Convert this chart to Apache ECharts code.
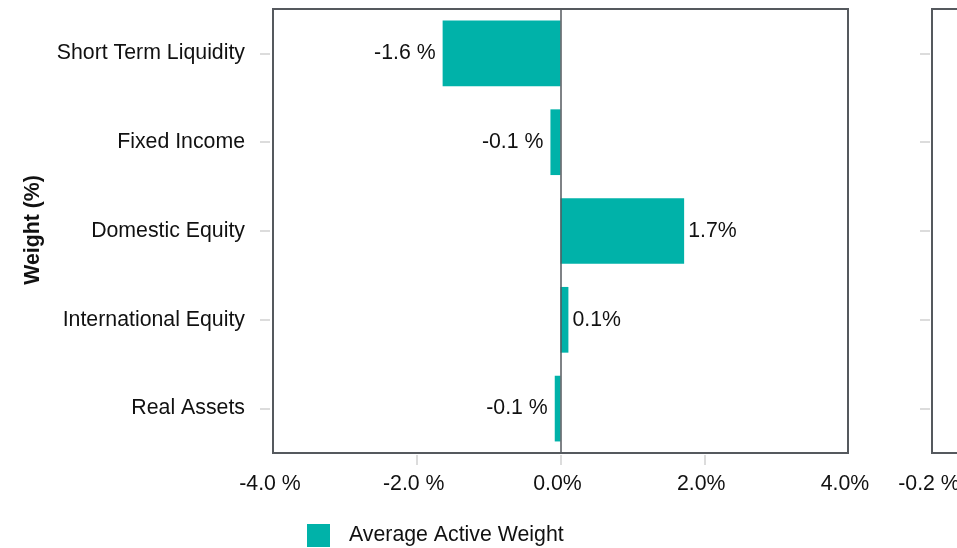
<!DOCTYPE html>
<html>
<head>
<meta charset="utf-8">
<script src="https://cdn.jsdelivr.net/npm/echarts@6/dist/echarts.min.js"></script>
<style>
  html, body { margin: 0; padding: 0; background: #fff; }
  #chart { width: 957px; height: 548px; }
</style>
</head>
<body>
<div id="chart"></div>
<script>
// Asset classes, top to bottom
const categories = ['Short Term Liquidity', 'Fixed Income', 'Domestic Equity', 'International Equity', 'Real Assets'];
// Average active weight, in percent
const activeWeight = [-1.64, -0.14, 1.72, 0.11, -0.08];
// Value-axis ticks of the main panel (percent)
const weightTicks = [-4, -2, 0, 2, 4];
// Value-axis ticks of the right-hand panel (percent)
const returnTicks = [-0.2, -0.1, 0, 0.1, 0.2];
const seriesName = 'Average Active Weight';

const FONT = 'Liberation Sans, Arial, sans-serif';
const FS = 21.3;
const TEAL = '#00b2a9';
const FRAME = '#55595e';
const TICK = '#dcdcdc';
const INK = '#111';

// "-1.6 %" for negatives, "1.7%" otherwise
function pct(v) {
  const s = Number(v).toFixed(1);
  return v < 0 ? s + ' %' : s + '%';
}

const chart = echarts.init(document.getElementById('chart'), null, { renderer: 'canvas' });

const barData = activeWeight.map(v => ({
  value: v,
  label: { position: v < 0 ? 'left' : 'right', distance: v < 0 ? 7 : 4 }
}));

function valueLabel(ticks) {
  return {
    fontSize: FS, color: INK, margin: 19,
    align: 'center',
    padding: [0, 6, 0, 0],
    alignMinLabel: 'center', alignMaxLabel: 'center',
    hideOverlap: false,
    customValues: ticks,
    formatter: pct
  };
}

chart.setOption({
  animation: false,
  textStyle: { fontFamily: FONT },
  graphic: [{
    type: 'text',
    x: 33, y: 230,
    rotation: Math.PI / 2,
    style: {
      text: 'Weight (%)',
      font: 'bold ' + FS + 'px ' + FONT,
      fill: INK,
      align: 'center',
      verticalAlign: 'middle'
    }
  }],
  legend: {
    left: 302, top: 519,
    itemWidth: 23, itemHeight: 23,
    icon: 'rect',
    data: [seriesName],
    textStyle: { fontSize: FS, color: INK, padding: [2, 0, 0, 14], fontFamily: FONT }
  },
  grid: [
    { left: 273, top: 9, width: 575, height: 444, show: true, borderColor: FRAME, borderWidth: 2, backgroundColor: 'transparent', outerBoundsMode: 'none' },
    { left: 932, top: 9, width: 575, height: 444, show: true, borderColor: FRAME, borderWidth: 2, backgroundColor: 'transparent', outerBoundsMode: 'none' }
  ],
  xAxis: [
    {
      gridIndex: 0, type: 'value',
      min: weightTicks[0], max: weightTicks[weightTicks.length - 1], interval: 2,
      offset: 2,
      axisLine: { show: false, onZero: false },
      axisTick: { show: true, length: 10, customValues: weightTicks.slice(1, -1), lineStyle: { color: TICK, width: 2 } },
      splitLine: { show: false },
      axisLabel: valueLabel(weightTicks)
    },
    {
      gridIndex: 1, type: 'value',
      min: returnTicks[0], max: returnTicks[returnTicks.length - 1], interval: 0.1,
      offset: 2,
      axisLine: { show: false, onZero: false },
      axisTick: { show: true, length: 10, customValues: returnTicks.slice(1, -1), lineStyle: { color: TICK, width: 2 } },
      splitLine: { show: false },
      axisLabel: valueLabel(returnTicks)
    }
  ],
  yAxis: [
    {
      gridIndex: 0, type: 'category', data: categories, inverse: true,
      position: 'left', offset: 3,
      axisLine: { show: false, onZero: false },
      axisTick: { show: true, alignWithLabel: true, length: 10, lineStyle: { color: TICK, width: 2 } },
      axisLabel: { fontSize: FS, color: INK, margin: 25 },
      splitLine: { show: false }
    },
    {
      gridIndex: 1, type: 'category', data: categories, inverse: true,
      position: 'left', offset: 2,
      axisLine: { show: false, onZero: false },
      axisTick: { show: true, alignWithLabel: true, length: 10, lineStyle: { color: TICK, width: 2 } },
      axisLabel: { show: false },
      splitLine: { show: false }
    }
  ],
  series: [{
    name: seriesName,
    type: 'bar',
    xAxisIndex: 0, yAxisIndex: 0,
    data: barData,
    barCategoryGap: '26%',
    itemStyle: { color: TEAL },
    label: { show: true, fontSize: FS, color: INK, formatter: p => pct(p.value) },
    markLine: {
      silent: true,
      symbol: 'none',
      label: { show: false },
      lineStyle: { color: FRAME, width: 1.5, type: 'solid' },
      data: [{ xAxis: 0 }]
    }
  }]
});
</script>
</body>
</html>
